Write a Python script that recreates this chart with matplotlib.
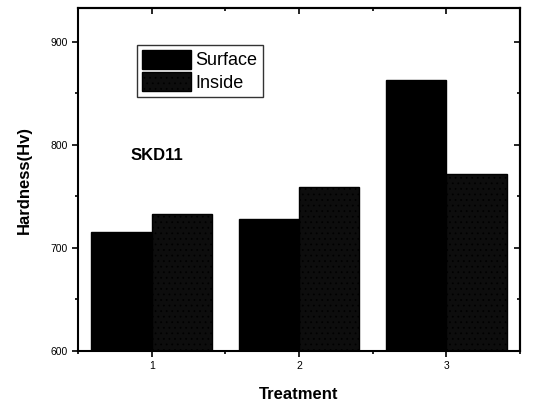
import numpy as np
import matplotlib
matplotlib.use('Agg')
import matplotlib.pyplot as plt
from matplotlib.ticker import MultipleLocator

plt.rcParams['font.family'] = ['Liberation Sans', 'DejaVu Sans']
plt.rcParams['hatch.color'] = '#555555'
plt.rcParams['hatch.linewidth'] = 0.5

# data
treatments = [1, 2, 3]
surface = [716, 728, 863]
inside = [733, 759, 772]

fig = plt.figure(figsize=(5.41, 4.11), dpi=100)
ax = fig.add_axes([78 / 541, 1 - 351 / 411, 442 / 541, 343 / 411])

x = np.array(treatments)
w = 0.41
ax.bar(x - w / 2, surface, width=w, color='black', edgecolor='black', label='Surface')
ax.bar(x + w / 2, inside, width=w, color='#0d0d0d', edgecolor='black',
       hatch='...', label='Inside')

ax.set_xlim(0.5, 3.5)
ax.set_ylim(600, 933)
ax.set_xticks(treatments)
ax.set_yticks([600, 700, 800, 900])
ax.xaxis.set_minor_locator(MultipleLocator(0.5))
ax.yaxis.set_minor_locator(MultipleLocator(50))

ax.tick_params(axis='both', which='both', labelsize=7.5, width=1.2, direction='out')
ax.tick_params(axis='both', which='major', length=4)
ax.tick_params(axis='both', which='minor', length=2.5)
# inward ticks on the top and right frame
ax2 = ax.secondary_xaxis('top')
ax2.set_xticks(treatments)
ax2.xaxis.set_minor_locator(MultipleLocator(0.5))
ax2.tick_params(which='both', direction='in', labeltop=False, width=1.2)
ax2.tick_params(which='major', length=4)
ax2.tick_params(which='minor', length=2.5)
ay2 = ax.secondary_yaxis('right')
ay2.set_yticks([600, 700, 800, 900])
ay2.yaxis.set_minor_locator(MultipleLocator(50))
ay2.tick_params(which='both', direction='in', labelright=False, width=1.2)
ay2.tick_params(which='major', length=4)
ay2.tick_params(which='minor', length=2.5)
for s in ax.spines.values():
    s.set_linewidth(1.5)
ax2.spines['top'].set_linewidth(1.5)
ay2.spines['right'].set_linewidth(1.5)

ax.set_xlabel('Treatment', fontsize=12, fontweight='bold', labelpad=11)
ax.set_ylabel('Hardness(Hv)', fontsize=12, fontweight='bold', labelpad=13)

ax.text(0.118, 0.57, 'SKD11', transform=ax.transAxes, fontsize=12,
        fontweight='bold', va='center')

leg = ax.legend(loc='upper left', bbox_to_anchor=(0.133, 0.893), fontsize=13,
                frameon=True, fancybox=False, handlelength=2.7, handleheight=1.2,
                handletextpad=0.25, borderpad=0.3, labelspacing=0.15,
                borderaxespad=0)
leg.get_frame().set_edgecolor('black')
leg.get_frame().set_linewidth(1.0)

fig.savefig('out.png', dpi=100)
